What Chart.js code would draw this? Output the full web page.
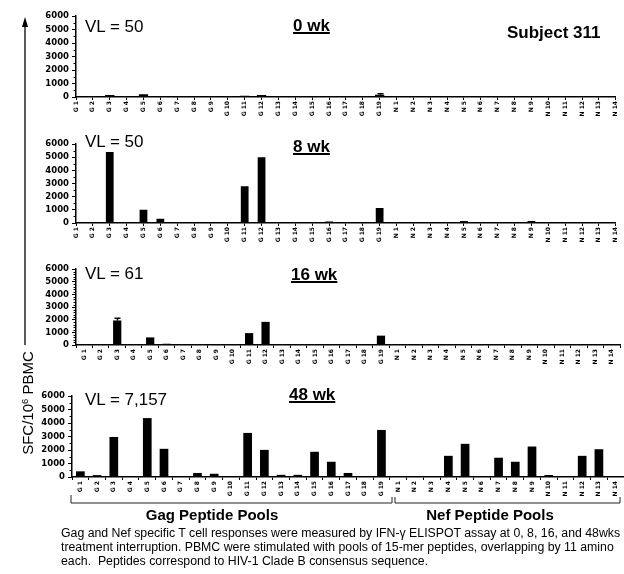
<!DOCTYPE html>
<html lang="en">
<head>
<meta charset="UTF-8" />
<title>Subject 311 - ELISPOT</title>
<script src="https://cdn.jsdelivr.net/npm/chart.js"></script>
<style>
  body { margin: 0; width: 624px; height: 574px; background: #fff; position: relative; overflow: hidden;
         font-family: "Liberation Sans", Arial, sans-serif; color: #000; }
  canvas.panel { position: absolute; left: 0; }
  .txt { position: absolute; white-space: nowrap; line-height: 1; }
  .vl { font-size: 17px; left: 85px; }
  .wk { font-size: 17px; font-weight: bold; text-decoration: underline; text-decoration-thickness: 2px; }
  .pool { font-size: 15px; font-weight: bold; transform: translateX(-50%); }
  #ytitle { font-size: 15px; left: 27px; top: 403px; transform: translate(-50%, -50%) rotate(-90deg); }
  #caption { position: absolute; left: 61px; top: 526px; font-size: 12.3px; line-height: 14px; white-space: nowrap; }
  svg { position: absolute; left: 0; top: 0; }
</style>
</head>
<body>

<canvas id="wk0" class="panel"></canvas>
<canvas id="wk8" class="panel"></canvas>
<canvas id="wk16" class="panel"></canvas>
<canvas id="wk48" class="panel"></canvas>

<div class="txt vl" style="top:18px">VL = 50</div>
<div class="txt wk" style="left:293px; top:17px">0 wk</div>
<div class="txt" style="left:507px; top:24px; font-size:17px; font-weight:bold">Subject 311</div>

<div class="txt vl" style="top:133px">VL = 50</div>
<div class="txt wk" style="left:293px; top:138px">8 wk</div>

<div class="txt vl" style="top:265px">VL = 61</div>
<div class="txt wk" style="left:291px; top:266px">16 wk</div>

<div class="txt vl" style="top:391px">VL = 7,157</div>
<div class="txt wk" style="left:289px; top:386px">48 wk</div>

<div id="ytitle" class="txt">SFC/10<span style="font-size:9.5px; vertical-align:5px">6</span> PBMC</div>

<svg width="624" height="574">
  <!-- y arrow -->
  <line x1="25" y1="345" x2="25" y2="24" stroke="#000" stroke-width="1.3" />
  <polygon points="25,17 22,27 28,27" fill="#000" />
  <!-- pool brackets -->
  <path d="M71 495 V503 H392 V497" fill="none" stroke="#222" stroke-width="1" />
  <path d="M395 497 V503 H620 V497" fill="none" stroke="#222" stroke-width="1" />
</svg>

<div class="txt pool" style="left:212px; top:507px">Gag Peptide Pools</div>
<div class="txt pool" style="left:490px; top:507px">Nef Peptide Pools</div>

<div id="caption">
  Gag and Nef specific T cell responses were measured by IFN-&gamma; ELISPOT assay at 0, 8, 16, and 48wks<br>
  treatment interruption. PBMC were stimulated with pools of 15-mer peptides, overlapping by 11 amino<br>
  each.&nbsp; Peptides correspond to HIV-1 Clade B consensus sequence.
</div>

<script>
  // peptide pools: Gag 1-19, Nef 1-14
  const pools = [
    "G 1", "G 2", "G 3", "G 4", "G 5", "G 6", "G 7", "G 8", "G 9", "G 10",
    "G 11", "G 12", "G 13", "G 14", "G 15", "G 16", "G 17", "G 18", "G 19",
    "N 1", "N 2", "N 3", "N 4", "N 5", "N 6", "N 7", "N 8", "N 9", "N 10",
    "N 11", "N 12", "N 13", "N 14"
  ];

  // SFC per 10^6 PBMC
  const week0 = [
    0, 0, 140, 0, 200, 0, 0, 0, 0, 0, 90, 140, 0, 0, 0, 0, 0, 0, 170,
    0, 0, 0, 0, 0, 0, 0, 0, 0, 0, 0, 0, 0, 0
  ];
  const week0Err = [
    0, 0, 0, 0, 0, 0, 0, 0, 0, 0, 0, 0, 0, 0, 0, 0, 0, 0, 70,
    0, 0, 0, 0, 0, 0, 0, 0, 0, 0, 0, 0, 0, 0
  ];
  const week8 = [
    0, 40, 5400, 40, 1000, 320, 50, 30, 60, 50, 2800, 5000, 30, 60, 40, 120, 20, 40, 1150,
    0, 0, 0, 0, 150, 0, 0, 50, 150, 0, 0, 0, 0, 0
  ];
  const week16 = [
    0, 0, 1940, 50, 600, 100, 0, 0, 10, 0, 940, 1830, 0, 0, 0, 0, 0, 0, 740,
    0, 0, 0, 0, 0, 0, 0, 0, 0, 0, 0, 0, 0, 0
  ];
  const week16Err = [
    0, 0, 180, 0, 0, 0, 0, 0, 0, 0, 0, 0, 0, 0, 0, 0, 0, 0, 0,
    0, 0, 0, 0, 0, 0, 0, 0, 0, 0, 0, 0, 0, 0
  ];
  const week48 = [
    420, 140, 2970, 60, 4370, 2090, 25, 300, 240, 25, 3270, 2010, 160, 160, 1870, 1130, 300, 60, 3490,
    20, 50, 20, 1570, 2460, 60, 1430, 1130, 2260, 150, 40, 1570, 2060, 50
  ];
  const yTicks = [0, 1000, 2000, 3000, 4000, 5000, 6000];

  // small minor ticks on the y axis plus optional error bars
  const extras = {
    id: "extras",
    afterDatasetsDraw(chart, args, opts) {
      const ctx = chart.ctx, x = chart.scales.x, y = chart.scales.y;
      const left = chart.chartArea.left;
      ctx.save();
      ctx.strokeStyle = "#000";
      ctx.lineWidth = 1;
      for (let v = opts.minor; v < yTicks[yTicks.length - 1]; v += opts.minor) {
        if (v % 1000 === 0) continue;
        const py = Math.round(y.getPixelForValue(v)) + 0.5;
        ctx.beginPath();
        ctx.moveTo(left - 2.5, py);
        ctx.lineTo(left, py);
        ctx.stroke();
      }
      const data = chart.data.datasets[0].data;
      (opts.errors || []).forEach((e, i) => {
        if (!e) return;
        const px = Math.round(x.getPixelForValue(i)) + 0.5;
        const y0 = y.getPixelForValue(data[i]);
        const y1 = y.getPixelForValue(data[i] + e);
        ctx.lineWidth = 1.5;
        ctx.beginPath();
        ctx.moveTo(px, y0);
        ctx.lineTo(px, y1);
        ctx.moveTo(px - 3, y1);
        ctx.lineTo(px + 3, y1);
        ctx.stroke();
      });
      ctx.restore();
    }
  };

  const panels = [
    { id: "wk0",  values: week0,  errors: week0Err,  top: 16,  bottom: 97,  left: 76, right: 620, offset: false, minor: 500, bar: 0.55 },
    { id: "wk8",  values: week8,  errors: null,      top: 144, bottom: 223, left: 76, right: 618, offset: false, minor: 500, bar: 0.46 },
    { id: "wk16", values: week16, errors: week16Err, top: 269, bottom: 345, left: 76, right: 620, offset: true,  minor: 200, bar: 0.5 },
    { id: "wk48", values: week48, errors: null,      top: 396, bottom: 477, left: 72, right: 624, offset: true,  minor: 500, bar: 0.52 }
  ];

  const PAD_TOP = 8, LABEL_H = 30;

  panels.forEach((p) => {
    const canvas = document.getElementById(p.id);
    canvas.width = 624;
    canvas.height = p.bottom - p.top + PAD_TOP + LABEL_H;
    canvas.style.top = (p.top - PAD_TOP) + "px";

    new Chart(canvas, {
      type: "bar",
      data: {
        labels: pools,
        datasets: [{
          data: p.values,
          backgroundColor: "#000",
          borderWidth: 0,
          barPercentage: p.bar,
          categoryPercentage: 1
        }]
      },
      options: {
        responsive: false,
        animation: false,
        events: [],
        layout: { padding: { top: PAD_TOP, right: 624 - p.right, left: 0, bottom: 0 } },
        plugins: {
          legend: { display: false },
          tooltip: { enabled: false },
          extras: { minor: p.minor, errors: p.errors }
        },
        scales: {
          x: {
            offset: p.offset,
            grid: { drawOnChartArea: false, tickLength: 3, color: "#000", offset: p.offset },
            border: { color: "#000", width: 1.5 },
            ticks: {
              autoSkip: false, minRotation: 90, maxRotation: 90, padding: 1, color: "#000",
              font: { family: "DejaVu Sans", weight: "bold", size: 6 }
            },
            afterFit: (s) => { s.height = LABEL_H; }
          },
          y: {
            min: yTicks[0],
            max: yTicks[yTicks.length - 1],
            afterBuildTicks: (s) => { s.ticks = yTicks.map((v) => ({ value: v })); },
            grid: { drawOnChartArea: false, tickLength: 4, color: "#000" },
            border: { color: "#000", width: 1.5 },
            ticks: {
              autoSkip: false, padding: 3, color: "#000",
              font: { family: "DejaVu Sans", weight: "bold", size: 8.5 },
              callback: (v) => String(v)
            },
            afterFit: (s) => { s.width = p.left; }
          }
        }
      },
      plugins: [extras]
    });
  });
</script>
</body>
</html>
